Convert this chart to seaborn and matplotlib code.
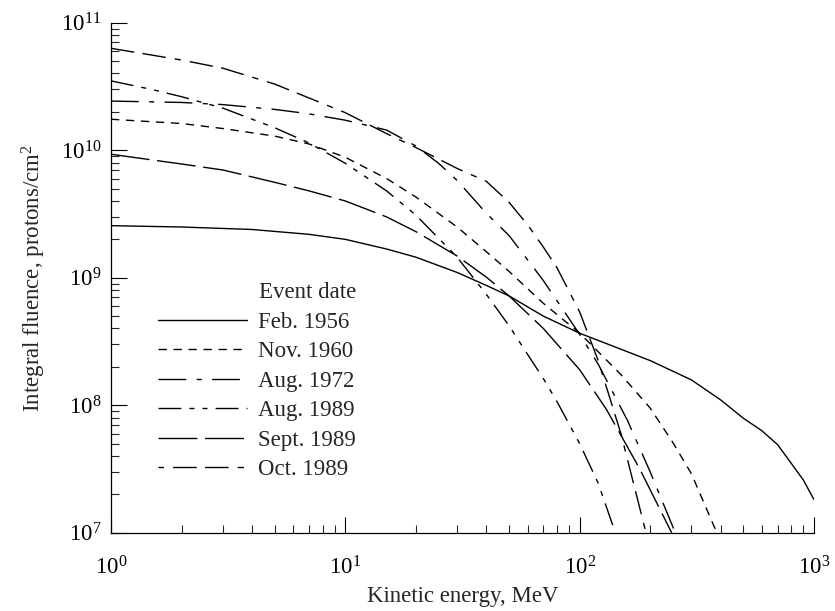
import matplotlib
matplotlib.use("Agg")
import matplotlib.pyplot as plt
import numpy as np
import pandas as pd
import seaborn as sns

# ---------------- data ----------------
events = ["Feb. 1956", "Nov. 1960", "Aug. 1972", "Aug. 1989", "Sept. 1989", "Oct. 1989"]

feb1956_E = [1, 2, 4, 7, 10, 15, 20, 30, 40, 50, 70, 100, 150, 200, 300, 400, 500, 600, 700,
             800, 900, 1000]
feb1956_F = [2.56e9, 2.50e9, 2.39e9, 2.19e9, 2.0e9, 1.68e9, 1.45e9, 1.10e9, 8.7e8, 7.2e8,
             5.0e8, 3.67e8, 2.75e8, 2.24e8, 1.58e8, 1.10e8, 7.9e7, 6.3e7, 4.9e7, 3.5e7,
             2.6e7, 1.82e7]

nov1960_E = [1, 2, 3, 5, 7, 10, 15, 20, 30, 40, 50, 70, 100, 150, 200, 250, 300, 385]
nov1960_F = [1.75e10, 1.62e10, 1.48e10, 1.29e10, 1.12e10, 8.8e9, 6.0e9, 4.3e9, 2.5e9, 1.60e9,
             1.12e9, 6.3e8, 3.68e8, 1.74e8, 9.5e7, 5.1e7, 2.9e7, 1.0e7]

aug1972_E = [1, 2, 3, 5, 7, 10, 15, 20, 25, 30, 40, 50, 60, 70, 100, 120, 160, 200, 256]
aug1972_F = [2.43e10, 2.37e10, 2.28e10, 2.09e10, 1.93e10, 1.72e10, 1.44e10, 1.08e10, 7.9e9,
             5.8e9, 3.2e9, 2.14e9, 1.38e9, 9.5e8, 3.6e8, 2.1e8, 7.6e7, 3.0e7, 1.0e7]

aug1989_E = [1, 1.5, 2, 3, 5, 7, 10, 15, 20, 25, 30, 40, 50, 60, 70, 80, 100, 120, 142]
aug1989_F = [3.5e10, 2.99e10, 2.63e10, 2.14e10, 1.5e10, 1.14e10, 7.9e9, 4.8e9, 3.1e9, 2.04e9,
             1.45e9, 7.4e8, 4.2e8, 2.5e8, 1.62e8, 1.07e8, 5.0e7, 2.45e7, 1.0e7]

sep1989_E = [1, 2, 3, 5, 7, 10, 15, 20, 30, 40, 50, 70, 100, 130, 180, 247]
sep1989_F = [9.3e9, 7.8e9, 7.0e9, 5.6e9, 4.8e9, 4.0e9, 3.0e9, 2.3e9, 1.48e9, 1.01e9,
             7.2e8, 4.0e8, 1.9e8, 9.3e7, 3.2e7, 1.0e7]

oct1989_E = [1, 2, 3, 5, 7, 10, 15, 20, 30, 40, 50, 60, 70, 80, 100, 120, 150, 192]
oct1989_F = [6.3e10, 5.1e10, 4.4e10, 3.3e10, 2.57e10, 1.97e10, 1.35e10, 1.05e10, 7.2e9, 5.7e9,
             3.9e9, 2.6e9, 1.74e9, 1.2e9, 5.4e8, 2.24e8, 6.0e7, 1.0e7]

series = {
    "Feb. 1956": (feb1956_E, feb1956_F),
    "Nov. 1960": (nov1960_E, nov1960_F),
    "Aug. 1972": (aug1972_E, aug1972_F),
    "Aug. 1989": (aug1989_E, aug1989_F),
    "Sept. 1989": (sep1989_E, sep1989_F),
    "Oct. 1989": (oct1989_E, oct1989_F),
}

rows = []
for ev in events:
    E, F = series[ev]
    for e, f in zip(E, F):
        rows.append({"energy": e, "fluence": f, "event": ev})
df = pd.DataFrame(rows)

# ---------------- style ----------------
sns.set_style("ticks")
plt.rcParams["font.family"] = ["Liberation Serif", "DejaVu Serif"]
plt.rcParams["mathtext.fontset"] = "custom"
plt.rcParams["mathtext.rm"] = "Liberation Serif"
plt.rcParams["mathtext.it"] = "Liberation Serif:italic"
plt.rcParams["lines.scale_dashes"] = False

dashes = {
    "Feb. 1956": "",
    "Nov. 1960": (6, 4.8),
    "Aug. 1972": (20, 7.5, 3.6, 7.5),
    "Aug. 1989": (16.5, 5.8, 3.6, 5.8, 3.6, 5.8),
    "Sept. 1989": (28, 5.5),
    "Oct. 1989": (17, 6, 17, 6.5, 4.5, 6.5),
}

fig = plt.figure(figsize=(8.35, 6.11), dpi=100)
ax = fig.add_axes([0.1329, 0.1281, 0.8419, 0.8347])

sns.lineplot(data=df, x="energy", y="fluence", hue="event", style="event",
             hue_order=events, style_order=events, dashes=dashes,
             palette=["black"] * len(events), estimator=None, sort=False,
             linewidth=1.0, ax=ax, legend="full")

ax.set_xscale("log")
ax.set_yscale("log")
ax.set_xlim(1, 1000)
ax.set_ylim(1e7, 1e11)

sns.despine(ax=ax)
for s in ["left", "bottom"]:
    ax.spines[s].set_linewidth(0.9)
    ax.spines[s].set_color("black")

ax.tick_params(which="major", direction="in", length=11.3, width=0.8, labelsize=16.5, colors="black")
ax.tick_params(which="minor", direction="in", length=5.8, width=0.8)
ax.tick_params(axis="x", which="major", pad=17)
ax.tick_params(axis="y", which="major", pad=7)

ax.set_xlabel("Kinetic energy, MeV", fontsize=16.5, labelpad=5)
ax.set_ylabel(r"Integral fluence, protons/cm$^2$", fontsize=16.5, labelpad=9)

h, l = ax.get_legend_handles_labels()
leg = ax.legend(h, l, title="Event date", loc="upper left",
                bbox_to_anchor=(0.0669, 0.4916), frameon=False, fontsize=16.5,
                title_fontsize=16.5, handlelength=3.9, handletextpad=0.48,
                labelspacing=0.37, borderpad=0, borderaxespad=0, alignment="right")
for line, lab in zip(leg.get_lines(), l):
    line.set_linewidth(1.0)
    if lab == "Oct. 1989":
        line.set_linestyle((47, (17, 6, 17, 6.5, 4.5, 6.5)))

fig.savefig("out.png", dpi=100)
